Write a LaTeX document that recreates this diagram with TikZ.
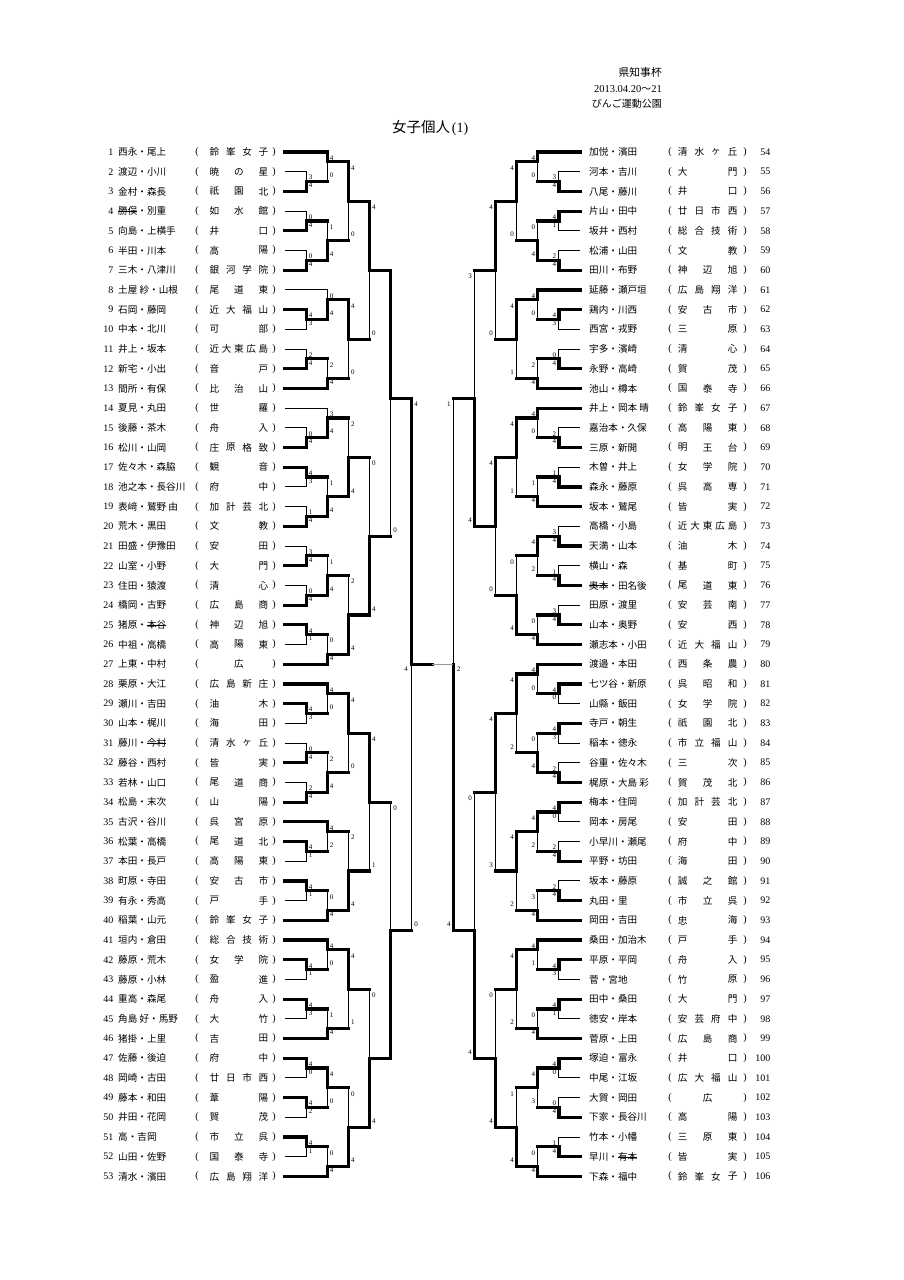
\documentclass[tikz,border=0pt]{standalone}
\usepackage{fontspec}
\setmainfont{Liberation Serif}
\newfontfamily\jp{Noto Sans CJK JP}
\usetikzlibrary{positioning}
\newcommand\strk[1]{\setbox0=\hbox{#1}\rlap{\rule[0.33em]{\wd0}{0.6pt}}\box0}

\begin{document}
\begin{tikzpicture}[x=1pt, y=-1pt,
  win/.style={line width=3.2pt, line cap=rect},
  lose/.style={line width=0.9pt},
  finr/.style={line width=1.2pt, black!40},
  sc/.style={font=\fontsize{7}{7}\selectfont, inner sep=0pt},
  nm/.style={font=\jp\fontsize{9.6}{10}\selectfont, inner sep=0pt},
  num/.style={font=\fontsize{10}{10}\selectfont, inner sep=0pt},
]
\useasboundingbox (0,0) rectangle (904,1280);
% y of row r: 152 + (r-1)*19.7 ; columns 21.1 apart
% header
\node[font=\jp\fontsize{10.8}{11}\selectfont, anchor=east, inner sep=0pt] (cup) at (662,72.7) {県知事杯};
\node[font=\fontsize{10.5}{11}\selectfont, anchor=east, inner sep=0pt] (date) at (662,89.3) {2013.04.20{\jp\fontsize{10}{11}\selectfont ～}21};
\node[font=\jp\fontsize{10}{11}\selectfont, anchor=east, inner sep=0pt] (venue) at (662,103.5) {びんご運動公園};
\node[anchor=west, inner sep=0pt] (title) at (392,128.3) {{\jp\fontsize{14.5}{15}\selectfont 女子個人}\,{\fontsize{14}{15}\selectfont (1)}};

% left entries
\foreach \i/\nm/\sc in {
  1/西永・尾上/{鈴,峯,女,子}, 2/渡辺・小川/{暁,の,星}, 3/金村・森長/{祇,園,北},
  4/\strk{勝俣}・別重/{如,水,館}, 5/向島・上横手/{井,口}, 6/半田・川本/{高,陽},
  7/三木・八津川/{銀,河,学,院}, 8/土屋 紗・山根/{尾,道,東}, 9/石岡・藤岡/{近,大,福,山},
  10/中本・北川/{可,部}, 11/井上・坂本/{近,大,東,広,島}, 12/新宅・小出/{音,戸},
  13/間所・有保/{比,治,山}, 14/夏見・丸田/{世,羅}, 15/後藤・茶木/{舟,入},
  16/松川・山岡/{庄,原,格,致}, 17/佐々木・森脇/{観,音}, 18/池之本・長谷川/{府,中},
  19/表﨑・鷲野 由/{加,計,芸,北}, 20/荒木・黒田/{文,教}, 21/田盛・伊豫田/{安,田},
  22/山室・小野/{大,門}, 23/住田・猿渡/{清,心}, 24/橋岡・古野/{広,島,商},
  25/猪原・\strk{本谷}/{神,辺,旭}, 26/中祖・高橋/{高,陽,東}, 27/上東・中村/{広},
  28/栗原・大江/{広,島,新,庄}, 29/瀬川・吉田/{油,木}, 30/山本・梶川/{海,田},
  31/藤川・\strk{今村}/{清,水,ヶ,丘}, 32/藤谷・西村/{皆,実}, 33/若林・山口/{尾,道,商},
  34/松島・末次/{山,陽}, 35/古沢・谷川/{呉,宮,原}, 36/松葉・高橋/{尾,道,北},
  37/本田・長戸/{高,陽,東}, 38/町原・寺田/{安,古,市}, 39/有永・秀高/{戸,手},
  40/稲葉・山元/{鈴,峯,女,子}, 41/垣内・倉田/{総,合,技,術}, 42/藤原・荒木/{女,学,院},
  43/藤原・小林/{盈,進}, 44/重高・森尾/{舟,入}, 45/角島 好・馬野/{大,竹},
  46/猪掛・上里/{吉,田}, 47/佐藤・後迫/{府,中}, 48/岡崎・古田/{廿,日,市,西},
  49/藤本・和田/{葦,陽}, 50/井田・花岡/{賀,茂}, 51/高・吉岡/{市,立,呉},
  52/山田・佐野/{国,泰,寺}, 53/清水・濱田/{広,島,翔,洋}} {
  \pgfmathsetmacro\yy{152+(\i-1)*19.7}
  \node[num, anchor=east] (n\i) at (113.5,\yy) {\i};
  \node[nm, anchor=west] (p\i) at (118,\yy) {\nm};
  \node[num] (o\i) at (197,\yy) {(};
  \node[num] (c\i) at (274,\yy) {)};
  \foreach \c [count=\q] in \sc {\xdef\nch{\q}}
  \foreach \c [count=\q] in \sc {
    \pgfmathsetmacro\cx{\nch>1 ? 214.5+(\q-1)*49/max(\nch-1,1) : 239}
    \node[nm] (s\i-\q) at (\cx,\yy) {\c};
  }
}

% right entries
\foreach \i/\nm/\sc in {
  54/加悦・濱田/{清,水,ヶ,丘}, 55/河本・吉川/{大,門}, 56/八尾・藤川/{井,口},
  57/片山・田中/{廿,日,市,西}, 58/坂井・西村/{総,合,技,術}, 59/松浦・山田/{文,教},
  60/田川・布野/{神,辺,旭}, 61/延藤・瀬戸垣/{広,島,翔,洋}, 62/鶏内・川西/{安,古,市},
  63/西宮・戎野/{三,原}, 64/宇多・濱崎/{清,心}, 65/永野・高崎/{賀,茂},
  66/池山・樽本/{国,泰,寺}, 67/井上・岡本 晴/{鈴,峯,女,子}, 68/嘉治本・久保/{高,陽,東},
  69/三原・新開/{明,王,台}, 70/木曽・井上/{女,学,院}, 71/森永・藤原/{呉,高,専},
  72/坂本・鷲尾/{皆,実}, 73/高橋・小島/{近,大,東,広,島}, 74/天満・山本/{油,木},
  75/横山・森/{基,町}, 76/\strk{奥本}・田名後/{尾,道,東}, 77/田原・渡里/{安,芸,南},
  78/山本・奥野/{安,西}, 79/瀬志本・小田/{近,大,福,山}, 80/渡邉・本田/{西,条,農},
  81/七ツ谷・新原/{呉,昭,和}, 82/山縣・飯田/{女,学,院}, 83/寺戸・朝生/{祇,園,北},
  84/稲本・徳永/{市,立,福,山}, 85/谷重・佐々木/{三,次}, 86/梶原・大島 彩/{賀,茂,北},
  87/梅本・住岡/{加,計,芸,北}, 88/岡本・房尾/{安,田}, 89/小早川・瀬尾/{府,中},
  90/平野・坊田/{海,田}, 91/坂本・藤原/{誠,之,館}, 92/丸田・里/{市,立,呉},
  93/岡田・吉田/{忠,海}, 94/桑田・加治木/{戸,手}, 95/平原・平岡/{舟,入},
  96/菅・宮地/{竹,原}, 97/田中・桑田/{大,門}, 98/徳安・岸本/{安,芸,府,中},
  99/菅原・上田/{広,島,商}, 100/塚迫・富永/{井,口}, 101/中尾・江坂/{広,大,福,山},
  102/大賀・岡田/{広}, 103/下家・長谷川/{高,陽}, 104/竹本・小幡/{三,原,東},
  105/早川・\strk{有本}/{皆,実}, 106/下森・福中/{鈴,峯,女,子}} {
  \pgfmathsetmacro\yy{152+(\i-54)*19.7}
  \node[nm, anchor=west] (p\i) at (589,\yy) {\nm};
  \node[num] (o\i) at (670,\yy) {(};
  \node[num] (c\i) at (745,\yy) {)};
  \node[num, anchor=east] (n\i) at (770.5,\yy) {\i};
  \foreach \c [count=\q] in \sc {\xdef\nch{\q}}
  \foreach \c [count=\q] in \sc {
    \pgfmathsetmacro\cx{\nch>1 ? 682.7+(\q-1)*50/max(\nch-1,1) : 707.7}
    \node[nm] (s\i-\q) at (\cx,\yy) {\c};
  }
}

% matches: side/column/top row/top is entry/bottom row/bottom is entry/joint/winner/top score/bottom score
\foreach \sd/\col/\rt/\et/\rb/\eb/\rj/\wn/\sa/\sz [count=\m] in {
  1/1/2/1/3/1/2.5/2/3/4, 1/2/1/1/2.5/0/1.5/1/4/0, 1/1/4/1/5/1/4.5/2/0/4,
  1/1/6/1/7/1/6.5/2/0/4, 1/2/4.5/0/6.5/0/5.5/2/1/4, 1/3/1.5/0/5.5/0/3.5/1/4/0,
  1/1/9/1/10/1/9.5/1/4/3, 1/2/8/1/9.5/0/8.5/2/0/4, 1/1/11/1/12/1/11.5/2/2/4,
  1/2/11.5/0/13/1/12.5/2/2/4, 1/3/8.5/0/12.5/0/10.5/1/4/0, 1/4/3.5/0/10.5/0/7/1/4/0,
  1/1/15/1/16/1/15.5/2/0/4, 1/2/14/1/15.5/0/14.5/2/3/4, 1/1/17/1/18/1/17.5/1/4/3,
  1/1/19/1/20/1/19.5/2/1/4, 1/2/17.5/0/19.5/0/18.5/2/1/4, 1/3/14.5/0/18.5/0/16.5/2/2/4,
  1/1/21/1/22/1/21.5/2/3/4, 1/1/23/1/24/1/23.5/2/0/4, 1/2/21.5/0/23.5/0/22.5/2/1/4,
  1/1/25/1/26/1/25.5/1/4/1, 1/2/25.5/0/27/1/26.5/2/0/4, 1/3/22.5/0/26.5/0/24.5/2/2/4,
  1/4/16.5/0/24.5/0/20.5/2/0/4, 1/5/7/0/20.5/0/13.5/1//0,
  1/1/29/1/30/1/29.5/1/4/3, 1/2/28/1/29.5/0/28.5/1/4/0, 1/1/31/1/32/1/31.5/2/0/4,
  1/1/33/1/34/1/33.5/2/2/4, 1/2/31.5/0/33.5/0/32.5/2/2/4, 1/3/28.5/0/32.5/0/30.5/1/4/0,
  1/1/36/1/37/1/36.5/1/4/1, 1/2/35/1/36.5/0/35.5/1/4/2, 1/1/38/1/39/1/38.5/1/4/1,
  1/2/38.5/0/40/1/39.5/2/0/4, 1/3/35.5/0/39.5/0/37.5/2/2/4, 1/4/30.5/0/37.5/0/34/1/4/1,
  1/1/42/1/43/1/42.5/1/4/1, 1/2/41/1/42.5/0/41.5/1/4/0, 1/1/44/1/45/1/44.5/1/4/3,
  1/2/44.5/0/46/1/45.5/2/1/4, 1/3/41.5/0/45.5/0/43.5/1/4/1, 1/1/47/1/48/1/47.5/1/4/0,
  1/1/49/1/50/1/49.5/1/4/2, 1/2/47.5/0/49.5/0/48.5/1/4/0, 1/1/51/1/52/1/51.5/1/4/1,
  1/2/51.5/0/53/1/52.5/2/0/4, 1/3/48.5/0/52.5/0/50.5/2/0/4, 1/4/43.5/0/50.5/0/47/2/0/4,
  1/5/34/0/47/0/40.5/2/0/, 1/6/13.5/0/40.5/0/27/1/4/0,
  -1/1/2/1/3/1/2.5/2/3/4, -1/2/1/1/2.5/0/1.5/1/4/0, -1/1/4/1/5/1/4.5/1/4/1,
  -1/1/6/1/7/1/6.5/2/2/4, -1/2/4.5/0/6.5/0/5.5/2/0/4, -1/3/1.5/0/5.5/0/3.5/1/4/0,
  -1/1/9/1/10/1/9.5/1/4/3, -1/2/8/1/9.5/0/8.5/1/4/0, -1/1/11/1/12/1/11.5/2/0/4,
  -1/2/11.5/0/13/1/12.5/2/2/4, -1/3/8.5/0/12.5/0/10.5/1/4/1, -1/4/3.5/0/10.5/0/7/1/4/0,
  -1/1/15/1/16/1/15.5/2/2/4, -1/2/14/1/15.5/0/14.5/1/4/0, -1/1/17/1/18/1/17.5/2/1/4,
  -1/2/17.5/0/19/1/18.5/2/1/4, -1/3/14.5/0/18.5/0/16.5/1/4/1, -1/1/20/1/21/1/20.5/2/3/4,
  -1/1/22/1/23/1/22.5/2/1/4, -1/2/20.5/0/22.5/0/21.5/1/4/2, -1/1/24/1/25/1/24.5/2/3/4,
  -1/2/24.5/0/26/1/25.5/2/0/4, -1/3/21.5/0/25.5/0/23.5/2/0/4, -1/4/16.5/0/23.5/0/20/1/4/0,
  -1/5/7/0/20/0/13.5/2/3/4,
  -1/1/28/1/29/1/28.5/1/4/0, -1/2/27/1/28.5/0/27.5/1/4/0, -1/1/30/1/31/1/30.5/1/4/3,
  -1/1/32/1/33/1/32.5/2/2/4, -1/2/30.5/0/32.5/0/31.5/2/0/4, -1/3/27.5/0/31.5/0/29.5/1/4/2,
  -1/1/34/1/35/1/34.5/1/4/0, -1/1/36/1/37/1/36.5/2/2/4, -1/2/34.5/0/36.5/0/35.5/1/4/2,
  -1/1/38/1/39/1/38.5/2/2/4, -1/2/38.5/0/40/1/39.5/2/3/4, -1/3/35.5/0/39.5/0/37.5/1/4/2,
  -1/4/29.5/0/37.5/0/33.5/1/4/3,
  -1/1/42/1/43/1/42.5/1/4/3, -1/2/41/1/42.5/0/41.5/1/4/1, -1/1/44/1/45/1/44.5/1/4/1,
  -1/2/44.5/0/46/1/45.5/2/0/4, -1/3/41.5/0/45.5/0/43.5/1/4/2, -1/1/47/1/48/1/47.5/1/4/0,
  -1/1/49/1/50/1/49.5/2/0/4, -1/2/47.5/0/49.5/0/48.5/1/4/3, -1/1/51/1/52/1/51.5/2/1/4,
  -1/2/51.5/0/53/1/52.5/2/0/4, -1/3/48.5/0/52.5/0/50.5/2/1/4, -1/4/43.5/0/50.5/0/47/2/0/4,
  -1/5/33.5/0/47/0/40.5/2/0/4, -1/6/13.5/0/40.5/0/27/2/1/4} {
  \pgfmathsetmacro\xa{\sd>0 ? 285 : 580}
  \pgfmathsetmacro\xc{\xa+\sd*21.1*\col}
  \pgfmathsetmacro\xn{\xa+\sd*21.1*(\col+1)}
  \pgfmathsetmacro\yt{152+(\rt-1)*19.7}
  \pgfmathsetmacro\yb{152+(\rb-1)*19.7}
  \pgfmathsetmacro\yj{152+(\rj-1)*19.7}
  \ifnum\wn=1 \edef\yw{\yt}\edef\yl{\yb}\edef\ew{\et}\edef\el{\eb}%
  \else \edef\yw{\yb}\edef\yl{\yt}\edef\ew{\eb}\edef\el{\et}\fi
  \pgfmathsetmacro\xw{\ew==1 ? \xa : \xc}
  \pgfmathsetmacro\xl{\el==1 ? \xa : \xc}
  \def\os{win}
  \ifnum\col=6 \ifnum\sd<0 \def\os{finr}\fi\fi
  \draw[lose] (\xl,\yl) -- (\xc,\yl) -- (\xc,\yj);
  \draw[win] (\xw,\yw) -- (\xc,\yw) -- (\xc,\yj);
  \draw[\os] (\xc,\yj) -- (\xn,\yj);
  \node[sc] (st\m) at (\xc+\sd*4.5,\yt+6) {\sa};
  \node[sc] (sb\m) at (\xc+\sd*4.5,\yb-6) {\sz};
}
% final scores
\node[sc] (fl) at (406,669) {4};
\node[sc] (fr) at (458.5,669) {2};
\end{tikzpicture}
\end{document}
